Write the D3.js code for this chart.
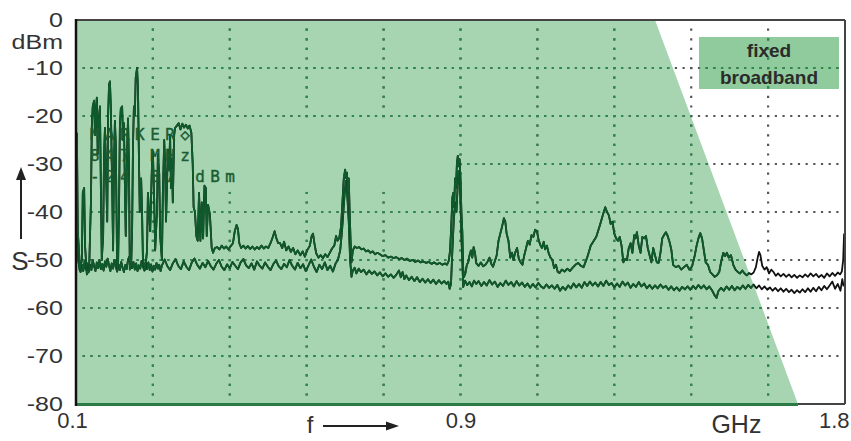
<!DOCTYPE html>
<html>
<head>
<meta charset="utf-8">
<script src="https://cdnjs.cloudflare.com/ajax/libs/d3/7.8.5/d3.min.js"></script>
<style>
body { margin: 0; background: #fff; }
svg { display: block; }
</style>
</head>
<body>
<svg id="chart" width="851" height="441"></svg>
<script>
// level axis (dBm) and frequency axis (MHz, labelled in GHz)
const yTicks = [0, -10, -20, -30, -40, -50, -60, -70, -80];
const xTickValues = [100, 950, 1800];
const xTickLabels = ["0.1", "0.9", "1.8"];

// edge of the "fixed broadband" region: frequency at 0 dBm and at -80 dBm
const broadbandEdge = [1380, 1696];
const legendLines = ["fixed", "broadband"];

const markerLines = ["MARKER\u25C7", "847 MHz", "-24.87 dBm"];

// max hold trace [MHz, dBm]
const maxHold = [
	[102,-23.5],[104,-44],[109,-52],[113,-50],[115,-36],[118,-35],[120,-47],[124,-53],[129,-52],[133,-38],
	[135,-22],[137,-18],[140,-16.8],[142,-24],[144,-19],[146,-16.2],[148,-28],[151,-20],[153,-18],[155,-35],
	[157,-50],[160,-45],[162,-28],[164,-22.5],[166,-30],[169,-42],[171,-20],[173,-13.5],[175,-12.8],[177,-18],
	[180,-35],[182,-48],[184,-30],[186,-21],[188,-26],[191,-52],[193,-51],[195,-40],[197,-22],[199,-18.5],
	[202,-18],[204,-25],[206,-21.5],[208,-34],[210,-45],[213,-27],[215,-20.5],[217,-30],[219,-52],[222,-51],
	[224,-44],[226,-26],[228,-18],[230,-20],[232,-12],[235,-10],[237,-14],[239,-28],[241,-40],[244,-33],
	[246,-40],[248,-50],[253,-52],[257,-48],[259,-36],[264,-44],[268,-30],[270,-27.5],[273,-38],[275,-48],
	[279,-40],[281,-28],[284,-32],[286,-45],[290,-50],[292,-36],[295,-25],[297,-30],[299,-42],[301,-35],
	[303,-27],[306,-31],[308,-24],[310,-35],[312,-29],[314,-38],[317,-24],[319,-22.5],[323,-22],[327,-21.5],
	[331,-22.8],[335,-21.6],[339,-22.4],[343,-21.8],[347,-22.6],[351,-22],[355,-23.5],[358,-30],[360,-39],[363,-40],
	[366,-45],[369,-46],[372,-36],[375,-46],[378,-38],[381,-45.5],[384,-34.5],[387,-35],[389,-45],[392,-38.5],
	[396,-40.5],[400,-47.5],[403,-48.5],[407,-47.5],[412,-47.3],[417,-47.8],[422,-47],[427,-47.6],[432,-47.2],[437,-47.8],
	[442,-47.1],[447,-46.5],[451,-44],[455,-42.7],[458,-43.5],[461,-46.5],[465,-47.5],[470,-47],[475,-47.6],[480,-47.1],
	[485,-47.7],[490,-47.2],[495,-47.8],[500,-47.3],[505,-47.7],[510,-47],[515,-47.6],[520,-47.2],[525,-47.5],[530,-46.5],
	[535,-45.2],[539,-44],[543,-45.5],[547,-46.5],[551,-46.5],[556,-47.5],[560,-46.2],[565,-48],[570,-47.2],[575,-48.3],
	[580,-47.5],[585,-48.8],[590,-48],[596,-49],[601,-48.2],[606,-49.3],[611,-48],[617,-47],[621,-45],[624,-44.5],
	[627,-46.5],[631,-48.6],[636,-49.5],[641,-49],[646,-49.6],[651,-48.8],[656,-49.4],[661,-48.5],[666,-47.6],[671,-47],
	[675,-45],[678,-46],[682,-45.4],[686,-43],[689,-38],[692,-33],[695,-31.2],[697,-33],[699,-31.8],[701,-36],
	[703,-33],[705,-40],[707,-46],[709,-50.5],[712,-48],[716,-47.2],[721,-47.5],[726,-47.3],[731,-47.8],[736,-47.6],
	[741,-48.2],[746,-48],[751,-48.5],[756,-48.2],[761,-48.8],[766,-48.5],[772,-48.8],[778,-49.2],[784,-49],[790,-49.5],
	[796,-49.3],[802,-49.6],[808,-49.4],[814,-49.8],[820,-49.6],[826,-50],[832,-49.7],[838,-50.2],[844,-50],[850,-50.4],
	[856,-50.1],[862,-50.5],[868,-50.3],[874,-50.6],[880,-50.4],[886,-50.8],[892,-50.5],[898,-50.9],[904,-50.6],[910,-51],
	[916,-50.7],[920,-51],[924,-50.2],[927,-48],[930,-42],[932,-37],[934,-36],[936,-39],[938,-33],[940,-35],
	[942,-30],[944,-28.3],[946,-30.5],[948,-29],[950,-33],[952,-40],[954,-44],[956,-52],[958,-53.5],[961,-52.7],
	[964,-51],[967,-50.5],[970,-49],[973,-48],[976,-49.5],[979,-47.3],[982,-48.5],[985,-50.7],[990,-51.2],[995,-50.5],
	[1000,-51.3],[1005,-51],[1010,-50.3],[1014,-49.5],[1018,-50.8],[1022,-51.4],[1026,-50.2],[1030,-49],[1034,-46],[1038,-44.5],
	[1042,-43],[1046,-41.3],[1049,-42],[1052,-44.5],[1056,-46],[1060,-49.5],[1064,-48.5],[1067,-50],[1071,-48.4],[1075,-47.5],
	[1079,-49.8],[1083,-50.5],[1087,-51],[1091,-49],[1095,-47.5],[1099,-46],[1103,-46.8],[1107,-44.8],[1111,-45.2],[1115,-43.7],
	[1119,-44],[1122,-45.5],[1126,-46.8],[1130,-47.5],[1134,-46.2],[1137,-47.8],[1141,-47],[1145,-48.6],[1149,-49.5],[1153,-50],
	[1157,-51.7],[1161,-51],[1165,-52.5],[1169,-52.7],[1174,-52],[1180,-52.4],[1186,-51.8],[1192,-52.3],[1198,-51.6],[1204,-51],
	[1210,-50.6],[1216,-51.2],[1222,-51.5],[1226,-50.5],[1230,-49.5],[1234,-48.3],[1238,-47],[1242,-46.4],[1246,-45.8],[1250,-45.2],
	[1254,-44],[1258,-42.8],[1262,-41.5],[1266,-40.2],[1270,-39],[1274,-40],[1278,-40.7],[1282,-42.5],[1286,-42],[1290,-44.5],
	[1294,-45.5],[1298,-46],[1302,-45.2],[1306,-47],[1310,-50.5],[1314,-49.8],[1318,-50],[1322,-47.5],[1326,-46.5],[1330,-48.5],
	[1334,-44.8],[1337,-45.5],[1340,-44.2],[1344,-47],[1348,-48.5],[1352,-45.2],[1356,-45.5],[1360,-45],[1364,-47.5],[1368,-49],
	[1372,-50.5],[1376,-47.5],[1380,-49],[1384,-50.5],[1388,-50.6],[1392,-48.5],[1396,-45.5],[1400,-44.8],[1404,-44.2],[1408,-45],
	[1412,-46.2],[1416,-47.8],[1420,-51],[1426,-51.5],[1432,-51.2],[1438,-52],[1444,-51.5],[1450,-51],[1456,-52],[1462,-51.3],
	[1468,-49],[1472,-47],[1476,-45.5],[1480,-44.4],[1484,-45.5],[1488,-48],[1492,-50.5],[1497,-51],[1502,-52.5],[1507,-53],
	[1512,-53.5],[1517,-53.2],[1522,-52.5],[1527,-50],[1531,-48.5],[1535,-49.2],[1539,-48.5],[1543,-49.5],[1548,-49],[1553,-51],
	[1558,-52],[1563,-52.5],[1568,-52.8],[1573,-52.2],[1578,-52.8],[1583,-53.2],[1588,-52.7],[1593,-53],[1598,-52.6],[1603,-51.5],
	[1607,-49.5],[1610,-48.3],[1613,-49],[1617,-51.2],[1622,-52],[1627,-51.5],[1632,-52.8],[1637,-52],[1642,-52.5],[1647,-53.3],
	[1652,-52.8],[1658,-53.4],[1664,-52.9],[1670,-53.5],[1676,-53],[1682,-53.6],[1688,-53.1],[1694,-53.7],[1700,-53.2],[1706,-53.6],
	[1712,-53],[1718,-53.5],[1724,-52.8],[1730,-53.4],[1736,-52.9],[1742,-53.6],[1748,-53.1],[1754,-53.7],[1760,-52.8],[1766,-53.4],
	[1772,-52.7],[1778,-53.3],[1784,-52.6],[1789,-53],[1793,-52.4],[1796,-50],[1798,-44.5]
];

// clear write trace [MHz, dBm]
const clearWrite = [
	[102,-44],[105,-50],[108,-52],[110,-52.5],[113,-51],[116,-52.3],[119,-50.3],[122,-52],[125,-50.7],[128,-52.5],
	[131,-51],[134,-52.1],[137,-50],[140,-51.3],[143,-52.3],[146,-50.5],[149,-51.7],[152,-50.1],[155,-51.9],[158,-50.8],
	[161,-52.2],[164,-50.3],[167,-51.4],[170,-49.7],[173,-51.1],[176,-52.3],[179,-50.7],[182,-51.8],[185,-50],[188,-51.3],
	[191,-52.4],[194,-50.9],[197,-52.1],[200,-50.4],[203,-51.6],[206,-52.5],[209,-51],[212,-51.9],[215,-49.9],[218,-49.3],
	[221,-51],[224,-51.7],[227,-50.4],[230,-52],[233,-50.7],[236,-52.3],[239,-51.1],[242,-51.8],[245,-50.2],[248,-51.4],
	[251,-52.2],[254,-50.7],[257,-51.9],[260,-50.5],[263,-52.1],[266,-50.9],[269,-52.4],[272,-51.2],[275,-52],[278,-50.6],
	[281,-51.8],[284,-51],[287,-52.3],[290,-51.1],[296,-49.9],[302,-51.3],[308,-52.1],[314,-50.7],[320,-49.8],[326,-51.2],
	[332,-51.9],[338,-50.3],[344,-51.4],[350,-52.1],[356,-50.5],[362,-49.7],[368,-51],[374,-51.8],[380,-50.6],[386,-51.5],
	[392,-50.2],[398,-51.3],[404,-52],[410,-50.8],[416,-50],[422,-51.4],[428,-52.1],[434,-50.9],[440,-51.7],[446,-50.4],
	[452,-51.2],[458,-51.9],[464,-50.5],[470,-49.8],[476,-51.1],[482,-51.7],[488,-50.7],[494,-52],[500,-50.3],[506,-51.2],
	[512,-51.8],[518,-50.5],[524,-51.4],[530,-52.1],[536,-50.9],[542,-50.1],[548,-51.3],[554,-51.9],[560,-50.8],[566,-51.5],
	[572,-50],[578,-51.2],[584,-52],[590,-50.6],[596,-51.7],[602,-50.9],[608,-52.3],[614,-51.1],[620,-49.9],[626,-51.4],
	[632,-52.5],[638,-51],[644,-51.9],[650,-50.5],[656,-52.1],[662,-51.2],[668,-52.4],[674,-50.7],[679,-50],[684,-48],
	[688,-44],[691,-40],[694,-36],[697,-33.5],[700,-37],[703,-42],[706,-50],[709,-53.5],[712,-52.2],[716,-51.6],
	[720,-52.8],[725,-51.8],[730,-52.5],[736,-52],[742,-53],[748,-52.2],[754,-52.9],[760,-52.4],[766,-53.2],[772,-52.6],
	[778,-53.4],[784,-52.8],[790,-53.5],[796,-53],[802,-53.7],[808,-53.1],[814,-52.2],[818,-53.6],[822,-52.5],[826,-54],
	[830,-53.2],[836,-54.2],[842,-53.5],[848,-54.4],[854,-53.6],[860,-54.6],[866,-53.9],[872,-54.7],[878,-54],[884,-54.8],
	[890,-54.1],[896,-55],[902,-54.2],[908,-54.9],[914,-54.4],[919,-55],[923,-54.5],[926,-56],[929,-55],[932,-48],
	[935,-42],[938,-38],[941,-40],[944,-34],[946,-31.5],[948,-33],[950,-38],[952,-45],[954,-50],[956,-55.6],
	[960,-54.3],[965,-55.2],[970,-54.6],[975,-55.5],[980,-54.3],[985,-55],[990,-54.4],[996,-55.4],[1002,-54.6],[1008,-55.3],
	[1014,-54.2],[1020,-55.1],[1026,-54.5],[1032,-55.6],[1038,-54.8],[1044,-55.4],[1050,-54.3],[1056,-55.2],[1062,-54.6],[1068,-55.5],
	[1074,-54.4],[1080,-55.3],[1086,-54.7],[1092,-55.6],[1098,-54.9],[1104,-55.8],[1110,-55],[1116,-55.7],[1122,-54.8],[1128,-55.5],
	[1134,-55.9],[1140,-55.1],[1146,-55.8],[1152,-55.3],[1158,-56],[1164,-55.2],[1170,-56.4],[1176,-55.6],[1182,-56.2],[1188,-55.3],
	[1194,-55.9],[1200,-54.9],[1206,-55.7],[1212,-55],[1218,-55.8],[1224,-54.6],[1230,-55.4],[1236,-54.5],[1242,-55.3],[1248,-54.7],
	[1254,-55.5],[1260,-54.6],[1266,-55.4],[1272,-54.3],[1278,-55.2],[1284,-54.8],[1290,-55.7],[1296,-54.9],[1302,-55.6],[1308,-54.5],
	[1314,-55.3],[1320,-54.7],[1326,-55.8],[1332,-55],[1338,-55.6],[1344,-54.6],[1350,-55.5],[1356,-54.9],[1362,-55.9],[1368,-55.2],
	[1374,-56],[1380,-55.3],[1386,-55.9],[1392,-55.1],[1398,-55.8],[1404,-55.4],[1410,-56.2],[1416,-55.5],[1422,-56.3],[1428,-55.7],
	[1434,-56.4],[1440,-55.6],[1446,-56.1],[1452,-55.5],[1458,-56.2],[1464,-55.4],[1470,-56],[1476,-55.2],[1482,-55.9],[1488,-55.3],
	[1494,-56.1],[1500,-55.5],[1506,-56.3],[1512,-57.4],[1516,-57.9],[1520,-56.5],[1526,-55.8],[1532,-56.4],[1538,-55.5],[1544,-56.2],
	[1550,-55.4],[1556,-56.3],[1562,-55.6],[1568,-56.1],[1574,-55.3],[1580,-56],[1586,-55.2],[1592,-55.8],[1598,-55.1],[1604,-55.9],
	[1610,-55.3],[1616,-56.1],[1622,-55.5],[1628,-56.2],[1634,-55.7],[1640,-56.4],[1646,-55.8],[1652,-56.5],[1658,-55.9],[1664,-56.6],
	[1670,-56],[1676,-56.7],[1682,-56.2],[1688,-56.9],[1694,-56.3],[1700,-56.8],[1706,-56.1],[1712,-56.7],[1718,-55.9],[1724,-56.6],
	[1730,-55.8],[1736,-56.5],[1742,-55.6],[1748,-56.3],[1754,-55.4],[1760,-56.1],[1766,-55.3],[1772,-54.5],[1778,-56],[1784,-55],
	[1790,-56.4],[1794,-54],[1797,-55.5]
];

const W = 851, H = 441;
const margin = {top: 20, right: 6, bottom: 37, left: 76};
const fillGreen = "#a7d5b2";
const traceGreen = "#0e5a2c";
const gridGreen = "#2d8a4e";
const labelFont = "'Liberation Sans', Arial, sans-serif";
const labelStretch = 1.25;

const svg = d3.select("#chart");

const x = d3.scaleLinear().domain([100, 1800]).range([margin.left, W - margin.right]);
const y = d3.scaleLinear().domain([0, -80]).range([margin.top, H - margin.bottom]);

const defs = svg.append("defs");

// fixed broadband area (polygon in data space)
const bandPoly = [[100, 0], [broadbandEdge[0], 0], [broadbandEdge[1], -80], [100, -80]];
const polyLine = d3.line().x(d => x(d[0])).y(d => y(d[1]));

// legend box geometry
const legend = {x: x(1800) - 146, y: y(0) + 17, w: 140, h: 52};

// clip = green area + legend box (grid dots are green there)
const bandClip = defs.append("clipPath").attr("id", "bandClip");
bandClip.append("path").attr("d", polyLine(bandPoly) + "Z");
bandClip.append("rect")
	.attr("x", legend.x).attr("y", legend.y)
	.attr("width", legend.w).attr("height", legend.h);

// no grid behind the marker readout
const gridMask = defs.append("mask").attr("id", "gridMask");
gridMask.append("rect").attr("width", W).attr("height", H).style("fill", "#fff");
gridMask.append("rect")
	.attr("x", x(100) + 4).attr("y", y(-20.4))
	.attr("width", x(950) - x(100) - 6).attr("height", y(-35.8) - y(-20.4))
	.style("fill", "#000");

svg.append("path")
	.attr("d", polyLine(bandPoly) + "Z")
	.style("fill", fillGreen);

svg.append("rect")
	.attr("x", legend.x).attr("y", legend.y)
	.attr("width", legend.w).attr("height", legend.h)
	.style("fill", "#8fcb9d");

//Dotted grid
const gridX = d3.range(1, 10).map(i => 100 + i * 170);
const gridY = yTicks.filter(d => d < 0 && d > -80);
const hStep = (x(1800) - x(100)) / 100;
const vStep = (y(-80) - y(0)) / 40;

function drawGrid(color, clip) {
	const g = svg.append("g").attr("mask", "url(#gridMask)");
	const inner = g.append("g");
	if (clip) inner.attr("clip-path", "url(#bandClip)");
	inner.selectAll("line.h")
		.data(gridY)
		.enter()
		.append("line")
		.attr("x1", x(100) + hStep - 1)
		.attr("x2", x(1800) - 2)
		.attr("y1", d => y(d))
		.attr("y2", d => y(d))
		.style("stroke", color)
		.style("stroke-width", 2.2)
		.style("stroke-dasharray", "2.2 " + (hStep - 2.2));
	inner.selectAll("line.v")
		.data(gridX)
		.enter()
		.append("line")
		.attr("x1", d => x(d))
		.attr("x2", d => x(d))
		.attr("y1", y(0) + vStep - 1)
		.attr("y2", y(-80) - 2)
		.style("stroke", color)
		.style("stroke-width", 2.2)
		.style("stroke-dasharray", "2.2 " + (vStep - 2.2));
}
drawGrid("#555", false);
drawGrid(gridGreen, true);

// legend text
svg.selectAll("text.legend")
	.data(legendLines)
	.enter()
	.append("text")
	.attr("x", legend.x + legend.w / 2)
	.attr("y", (d, i) => legend.y + 20 + i * 27)
	.attr("text-anchor", "middle")
	.style("font-family", labelFont)
	.style("font-weight", "bold")
	.style("font-size", "19px")
	.style("fill", "#2b2b2b")
	.text(d => d);

//Traces: black everywhere, dark green inside the band area
const traceLine = d3.line().x(d => x(d[0])).y(d => y(d[1]));
[clearWrite, maxHold].forEach(tr => {
	svg.append("path")
		.attr("d", traceLine(tr))
		.style("fill", "none")
		.style("stroke", "#111")
		.style("stroke-width", 1.8)
		.style("stroke-linejoin", "round");
	svg.append("path")
		.attr("d", traceLine(tr))
		.attr("clip-path", "url(#bandClip)")
		.style("fill", "none")
		.style("stroke", traceGreen)
		.style("stroke-width", 1.8)
		.style("stroke-linejoin", "round");
});

// marker readout
svg.selectAll("text.marker")
	.data(markerLines)
	.enter()
	.append("text")
	.attr("x", x(131))
	.attr("y", (d, i) => y(-24.9) + i * 21)
	.style("font-family", "'DejaVu Sans Mono', monospace")
	.style("font-size", "16px")
	.style("letter-spacing", "5.4px")
	.style("fill", "#1a5c31")
	.style("stroke", "#1a5c31")
	.style("stroke-width", 0.4)
	.text(d => d);

//Frame
svg.append("line")
	.attr("x1", x(100)).attr("x2", x(1800)).attr("y1", y(0)).attr("y2", y(0))
	.style("stroke", "#444").style("stroke-width", 2);
svg.append("line")
	.attr("x1", x(1800)).attr("x2", x(1800)).attr("y1", y(0)).attr("y2", y(-80))
	.style("stroke", "#444").style("stroke-width", 2);
svg.append("line")
	.attr("x1", x(broadbandEdge[1])).attr("x2", x(1800)).attr("y1", y(-80)).attr("y2", y(-80))
	.style("stroke", "#444").style("stroke-width", 2);
svg.append("line")
	.attr("x1", x(100)).attr("x2", x(broadbandEdge[1])).attr("y1", y(-80) + 0.5).attr("y2", y(-80) + 0.5)
	.style("stroke", "#2a7a45").style("stroke-width", 3);
svg.append("line")
	.attr("x1", x(100)).attr("x2", x(100)).attr("y1", y(0) - 1).attr("y2", y(-80) + 2)
	.style("stroke", "#111").style("stroke-width", 2.5);

//Axes
const yAxis = svg.append("g")
	.attr("transform", "translate(" + x(100) + ",0)")
	.call(d3.axisLeft(y).tickValues(yTicks).tickSize(0).tickPadding(10.5)
		.tickFormat(d => String(d)));
yAxis.select(".domain").remove();
yAxis.selectAll("text")
	.attr("transform", "scale(" + labelStretch + ",1)")
	.style("font-family", labelFont)
	.style("font-size", "20px")
	.style("fill", "#333");

const xAxis = svg.append("g")
	.attr("transform", "translate(0," + y(-80) + ")")
	.call(d3.axisBottom(x).tickValues(xTickValues).tickSize(0).tickPadding(8)
		.tickFormat((d, i) => xTickLabels[i]));
xAxis.select(".domain").remove();
xAxis.selectAll("text")
	.style("font-family", labelFont)
	.style("font-size", "22px")
	.style("fill", "#333");
xAxis.selectAll(".tick").filter((d, i) => i === 0).select("text").attr("dx", -4);
xAxis.selectAll(".tick").filter((d, i) => i === 2).select("text")
	.attr("text-anchor", "end").attr("dx", 4);

// units
svg.append("text")
	.attr("transform", "translate(" + (x(100) - 13) + "," + (y(0) + 29) + ") scale(" + labelStretch + ",1)")
	.attr("text-anchor", "end")
	.style("font-family", labelFont).style("font-size", "20px").style("fill", "#333")
	.text("dBm");
svg.append("text")
	.attr("x", x(1560)).attr("y", y(-80) + 29)
	.attr("text-anchor", "middle")
	.style("font-family", labelFont).style("font-size", "25px").style("fill", "#333")
	.text("GHz");

// S with arrow
svg.append("text")
	.attr("x", 20).attr("y", y(-50) + 10)
	.attr("text-anchor", "middle")
	.style("font-family", labelFont).style("font-size", "26px").style("fill", "#333")
	.text("S");
svg.append("line")
	.attr("x1", 21).attr("x2", 21).attr("y1", y(-50) - 21).attr("y2", y(-50) - 85)
	.style("stroke", "#222").style("stroke-width", 2);
svg.append("path")
	.attr("d", d3.line()([[16, y(-50) - 80], [26, y(-50) - 80], [21, y(-50) - 93]]) + "Z")
	.style("fill", "#222");

// f with arrow
svg.append("text")
	.attr("x", 310).attr("y", y(-80) + 29)
	.attr("text-anchor", "middle")
	.style("font-family", labelFont).style("font-size", "24px").style("fill", "#333")
	.text("f");
svg.append("line")
	.attr("x1", 323).attr("x2", 390).attr("y1", y(-80) + 22).attr("y2", y(-80) + 22)
	.style("stroke", "#222").style("stroke-width", 2);
svg.append("path")
	.attr("d", d3.line()([[386, y(-80) + 17.5], [386, y(-80) + 26.5], [399, y(-80) + 22]]) + "Z")
	.style("fill", "#222");
</script>
</body>
</html>
